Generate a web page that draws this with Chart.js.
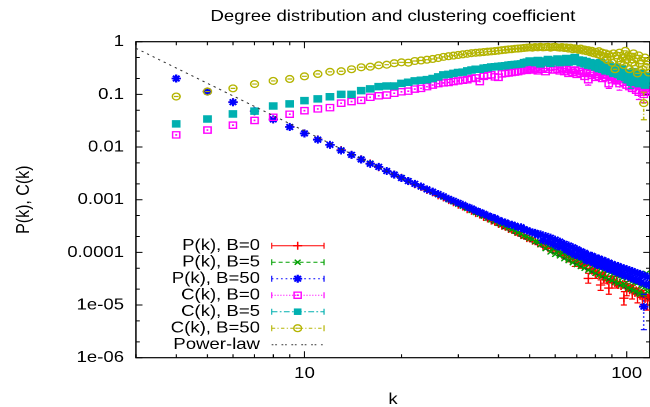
<!DOCTYPE html>
<html>
<head>
<meta charset="utf-8">
<title>Degree distribution and clustering coefficient</title>
<script src="https://cdn.jsdelivr.net/npm/chart.js@4.4.0/dist/chart.umd.min.js"></script>
<style>
  html, body { margin: 0; padding: 0; background: #fff; overflow: hidden; width: 650px; height: 407px; }
  /* the plot is laid out on a narrower canvas and widened to the page */
  #wrap { position: absolute; left: 0; top: 0; transform: scaleX(1.16); transform-origin: 0 0; }
  canvas { display: block; }
</style>
</head>
<body>
<div id="wrap"><canvas id="c" width="566" height="407"></canvas></div>
<script>
// ---- data -------------------------------------------------------------
const degrees = [
  4, 5, 6, 7, 8, 9, 10, 11, 12, 13,
  14, 15, 16, 17, 18, 19, 20, 21, 22, 23,
  24, 25, 26, 27, 28, 29, 30, 31, 32, 33,
  34, 35, 36, 37, 38, 39, 40, 41, 42, 43,
  44, 45, 46, 47, 48, 49, 50, 51, 52, 53,
  54, 55, 56, 57, 58, 59, 60, 61, 62, 63,
  64, 65, 66, 67, 68, 69, 70, 71, 72, 73,
  74, 75, 76, 77, 78, 79, 80, 81, 82, 83,
  84, 85, 86, 87, 88, 89, 90, 91, 92, 93,
  94, 95, 96, 97, 98, 99, 100, 101, 102, 103,
  104, 105, 106, 107, 108, 109, 110, 111, 112, 113,
  114, 115, 116, 117
];

// P(k), B=0
const pB0 = [
  0.2, 0.114, 0.0714, 0.0476, 0.0333, 0.0242, 0.0182, 0.0140, 0.0110, 0.0088,
  0.00713, 0.00587, 0.00490, 0.00414, 0.00350, 0.00301, 0.00261, 0.00225, 0.00197, 0.00175,
  0.00153, 0.00138, 0.00121, 0.00110, 9.8e-4, 8.95e-4, 8.0e-4, 7.4e-4, 6.6e-4, 6.15e-4,
  5.55e-4, 5.2e-4, 4.7e-4, 4.4e-4, 4.0e-4, 3.8e-4, 3.45e-4, 3.2e-4, 3.05e-4, 2.78e-4,
  2.68e-4, 2.43e-4, 2.35e-4, 2.12e-4, 2.07e-4, 1.86e-4, 1.83e-4, 1.66e-4, 1.63e-4, 1.48e-4,
  1.47e-4, 1.33e-4, 1.32e-4, 1.20e-4, 1.19e-4, 1.08e-4, 1.07e-4, 9.7e-5, 9.8e-5, 8.8e-5,
  8.9e-5, 8.0e-5, 8.2e-5, 7.3e-5, 7.5e-5, 6.6e-5, 6.9e-5, 6.0e-5, 6.3e-5, 5.6e-5,
  5.8e-5, 5.0e-5, 3.2e-5, 4.8e-5, 4.5e-5, 4.3e-5, 4.0e-5, 4.2e-5, 3.8e-5, 2.4e-5,
  3.6e-5, 3.3e-5, 3.5e-5, 2.9e-5, 2.1e-5, 3.1e-5, 2.8e-5, 3.0e-5, 2.6e-5, 2.8e-5,
  2.4e-5, 2.7e-5, 2.3e-5, 2.5e-5, 1.35e-5, 2.3e-5, 2.1e-5, 2.2e-5, 1.9e-5, 2.1e-5,
  1.8e-5, 2.0e-5, 1.7e-5, 1.9e-5, 1.6e-5, 1.8e-5, 1.5e-5, 1.7e-5, 1.4e-5, 1.6e-5,
  1.3e-5, 1.5e-5, 1.2e-5, 1.4e-5
];

// P(k), B=5
const pB5 = [
  0.2, 0.114, 0.0715, 0.0477, 0.0334, 0.0243, 0.0183, 0.0140, 0.0110, 0.00885,
  0.00718, 0.00592, 0.00495, 0.00418, 0.00356, 0.00305, 0.00265, 0.00230, 0.00200, 0.00178,
  0.00156, 0.00140, 0.00124, 0.00112, 0.00100, 9.1e-4, 8.2e-4, 7.5e-4, 6.8e-4, 6.25e-4,
  5.7e-4, 5.3e-4, 4.85e-4, 4.45e-4, 4.15e-4, 3.85e-4, 3.55e-4, 3.35e-4, 3.08e-4, 2.92e-4,
  2.70e-4, 2.55e-4, 2.36e-4, 2.25e-4, 2.05e-4, 1.98e-4, 1.84e-4, 1.78e-4, 1.60e-4, 1.58e-4,
  1.40e-4, 1.50e-4, 1.18e-4, 1.35e-4, 1.02e-4, 1.20e-4, 9.2e-5, 1.08e-4, 8.6e-5, 1.0e-4,
  7.6e-5, 9.2e-5, 7.0e-5, 8.5e-5, 6.4e-5, 7.9e-5, 5.9e-5, 7.3e-5, 5.4e-5, 6.8e-5,
  5.0e-5, 6.4e-5, 4.6e-5, 6.0e-5, 4.3e-5, 5.6e-5, 4.0e-5, 5.2e-5, 3.7e-5, 4.9e-5,
  3.5e-5, 4.6e-5, 3.3e-5, 4.4e-5, 3.1e-5, 4.1e-5, 2.9e-5, 3.9e-5, 2.7e-5, 3.7e-5,
  2.6e-5, 3.5e-5, 2.4e-5, 3.3e-5, 2.5e-5, 2.3e-5, 3.2e-5, 2.1e-5, 3.0e-5, 2.0e-5,
  2.8e-5, 1.9e-5, 2.7e-5, 1.8e-5, 2.6e-5, 1.7e-5, 1.6e-5, 2.4e-5, 2.3e-5, 1.6e-5,
  2.2e-5, 4.0e-5, 1.8e-5, 3.6e-5
];

// P(k), B=50
const pB50 = [
  0.2, 0.113, 0.071, 0.048, 0.0335, 0.0240, 0.0181, 0.0138, 0.0110, 0.0086,
  0.0071, 0.0058, 0.0048, 0.0042, 0.0035, 0.0030, 0.00258, 0.00226, 0.00200, 0.00178,
  0.00157, 0.00142, 0.00128, 0.00116, 0.00104, 9.5e-4, 8.7e-4, 8.0e-4, 7.3e-4, 6.8e-4,
  6.2e-4, 5.8e-4, 5.4e-4, 5.0e-4, 4.7e-4, 4.45e-4, 4.1e-4, 3.85e-4, 3.7e-4, 3.45e-4,
  3.35e-4, 3.2e-4, 3.0e-4, 3.0e-4, 2.75e-4, 2.62e-4, 2.5e-4, 2.38e-4, 2.35e-4, 2.15e-4,
  2.2e-4, 1.7e-4, 2.05e-4, 1.6e-4, 1.9e-4, 1.45e-4, 1.75e-4, 1.3e-4, 1.6e-4, 1.25e-4,
  1.45e-4, 1.1e-4, 1.35e-4, 1.0e-4, 1.25e-4, 9.0e-5, 1.15e-4, 8.5e-5, 1.05e-4, 8.0e-5,
  9.8e-5, 7.0e-5, 9.0e-5, 6.8e-5, 8.6e-5, 6.3e-5, 8.0e-5, 5.8e-5, 7.6e-5, 5.6e-5,
  7.2e-5, 5.3e-5, 6.8e-5, 5.0e-5, 6.4e-5, 4.7e-5, 6.0e-5, 4.5e-5, 5.7e-5, 4.2e-5,
  5.5e-5, 4.0e-5, 5.2e-5, 3.8e-5, 5.0e-5, 3.6e-5, 4.8e-5, 3.5e-5, 4.6e-5, 3.3e-5,
  4.4e-5, 3.1e-5, 4.2e-5, 3.0e-5, 4.0e-5, 2.9e-5, 3.9e-5, 2.7e-5, 3.7e-5, 9.3e-6,
  3.6e-5, 2.5e-5, 3.4e-5, 2.4e-5
];

// C(k), B=0
const cB0 = [
  0.017, 0.021, 0.026, 0.032, 0.0367, 0.042, 0.049, 0.053, 0.056, 0.068,
  0.073, 0.077, 0.088, 0.094, 0.097, 0.105, 0.112, 0.115, 0.126, 0.13,
  0.14, 0.15, 0.16, 0.165, 0.168, 0.175, 0.18, 0.185, 0.19, 0.20,
  0.205, 0.175, 0.22, 0.23, 0.235, 0.215, 0.21, 0.245, 0.25, 0.255,
  0.26, 0.265, 0.27, 0.28, 0.29, 0.285, 0.30, 0.29, 0.31, 0.28,
  0.30, 0.32, 0.27, 0.30, 0.33, 0.29, 0.34, 0.30, 0.28, 0.31,
  0.27, 0.30, 0.25, 0.29, 0.26, 0.28, 0.24, 0.29, 0.25, 0.27,
  0.22, 0.26, 0.19, 0.25, 0.23, 0.27, 0.21, 0.24, 0.22, 0.26,
  0.20, 0.23, 0.21, 0.24, 0.16, 0.22, 0.19, 0.23, 0.20, 0.18,
  0.21, 0.16, 0.19, 0.22, 0.17, 0.20, 0.15, 0.18, 0.14, 0.17,
  0.13, 0.16, 0.19, 0.12, 0.15, 0.11, 0.14, 0.17, 0.12, 0.10,
  0.14, 0.11, 0.13, 0.12
];

// C(k), B=5
const cB5 = [
  0.0275, 0.034, 0.0425, 0.048, 0.060, 0.066, 0.076, 0.082, 0.090, 0.100,
  0.100, 0.118, 0.127, 0.140, 0.144, 0.144, 0.162, 0.170, 0.180, 0.185,
  0.190, 0.200, 0.215, 0.235, 0.240, 0.250, 0.260, 0.265, 0.280, 0.290,
  0.300, 0.300, 0.315, 0.320, 0.330, 0.335, 0.340, 0.345, 0.350, 0.360,
  0.365, 0.370, 0.375, 0.380, 0.400, 0.410, 0.430, 0.42, 0.40, 0.44,
  0.38, 0.43, 0.41, 0.46, 0.39, 0.44, 0.42, 0.47, 0.40, 0.45,
  0.43, 0.48, 0.41, 0.46, 0.44, 0.50, 0.42, 0.45, 0.40, 0.44,
  0.38, 0.42, 0.36, 0.40, 0.35, 0.39, 0.33, 0.37, 0.31, 0.40,
  0.30, 0.34, 0.28, 0.32, 0.36, 0.27, 0.31, 0.25, 0.29, 0.33,
  0.24, 0.28, 0.22, 0.30, 0.26, 0.21, 0.25, 0.19, 0.23, 0.17,
  0.22, 0.27, 0.18, 0.24, 0.20, 0.16, 0.21, 0.25, 0.18, 0.22,
  0.15, 0.20, 0.17, 0.23
];

// C(k), B=50
const cB50 = [
  0.091, 0.113, 0.13, 0.157, 0.18, 0.196, 0.22, 0.244, 0.268, 0.275,
  0.30, 0.327, 0.335, 0.356, 0.366, 0.39, 0.406, 0.40, 0.43, 0.44,
  0.455, 0.47, 0.49, 0.515, 0.53, 0.545, 0.56, 0.575, 0.59, 0.605,
  0.615, 0.625, 0.635, 0.645, 0.655, 0.665, 0.675, 0.69, 0.70, 0.715,
  0.72, 0.735, 0.74, 0.75, 0.76, 0.77, 0.78, 0.77, 0.79, 0.78,
  0.80, 0.78, 0.79, 0.80, 0.77, 0.79, 0.80, 0.78, 0.77, 0.79,
  0.76, 0.78, 0.74, 0.77, 0.72, 0.75, 0.73, 0.70, 0.74, 0.68,
  0.71, 0.66, 0.69, 0.63, 0.67, 0.60, 0.64, 0.58, 0.66, 0.55,
  0.62, 0.50, 0.60, 0.45, 0.57, 0.52, 0.40, 0.60, 0.30, 0.55,
  0.48, 0.62, 0.42, 0.50, 0.36, 0.67, 0.45, 0.55, 0.30, 0.52,
  0.40, 0.60, 0.35, 0.48, 0.25, 0.55, 0.38, 0.44, 0.30, 0.068,
  0.50, 0.33, 0.42, 0.26
];

// reference power-law line, end points
const powerLawK = [3, 118];
const powerLawP = [0.75, 1.23e-5];

// visible error bars: [k, low, high]
const errB0P = [
  [66, 6.6e-5, 9.8e-5], [69, 5.4e-5, 7.9e-5], [72, 5.0e-5, 7.6e-5], [76, 2.6e-5, 4.0e-5],
  [80, 3.2e-5, 5.0e-5], [83, 1.9e-5, 3.0e-5], [85, 2.6e-5, 4.2e-5], [88, 1.6e-5, 2.7e-5],
  [90, 2.1e-5, 3.5e-5], [93, 2.1e-5, 3.5e-5], [98, 1.0e-5, 1.8e-5], [100, 1.5e-5, 2.8e-5],
  [104, 1.3e-5, 2.4e-5], [108, 1.1e-5, 2.1e-5], [112, 1.0e-5, 1.9e-5], [116, 0.8e-5, 1.6e-5]
];
const errB50P = [[113, 3.4e-6, 1.6e-5]];
const errB0C = [[76, 0.15, 0.24], [88, 0.13, 0.20], [95, 0.12, 0.21], [109, 0.08, 0.15], [113, 0.07, 0.14]];
const errB5C = [[99, 0.17, 0.26], [103, 0.13, 0.22]];
const errB50C = [[113, 0.033, 0.11]];

const seriesNames = ['P(k), B=0', 'P(k), B=5', 'P(k), B=50', 'C(k), B=0', 'C(k), B=5', 'C(k), B=50', 'Power-law'];

const xTickValues = [10, 100];
const xTickLabels = ['10', '100'];
const xMinorTicks = [3, 4, 5, 6, 7, 8, 9, 20, 30, 40, 50, 60, 70, 80, 90];
const yTickValues = [1e-6, 1e-5, 1e-4, 1e-3, 1e-2, 0.1, 1];
const yTickLabels = ['1e-06', '1e-05', '0.0001', '0.001', '0.01', '0.1', '1'];
const yMinorTicks = [2e-6, 5e-6, 2e-5, 5e-5, 2e-4, 5e-4, 2e-3, 5e-3, 0.02, 0.05, 0.2, 0.5];

// ---- styles -----------------------------------------------------------
const FONT = '"Liberation Sans", Arial, Helvetica, sans-serif';
Chart.defaults.font.family = FONT;
Chart.defaults.font.size = 16;
Chart.defaults.color = '#000';

const styles = [
  { color: '#ff0000', mark: 'cross',    r: 4.0, w: 1.3, dash: [],              caps: true },
  { color: '#00a000', mark: 'crossRot', r: 3.6, w: 1.3, dash: [3.5, 2.5],      caps: true },
  { color: '#0000ff', mark: 'star',     r: 4.0, w: 1.8, dash: [1.5, 2.5],      caps: true },
  { color: '#ff00ff', mark: 'rect',     r: 4.4, w: 1.3, dash: [1, 1.5],        caps: true, open: true, center: 'dot' },
  { color: '#00b0b0', mark: 'rect',     r: 4.6, w: 1,   dash: [5, 2, 1.5, 2],  caps: true, fill: true },
  { color: '#b4b400', mark: 'circle',   r: 3.4, w: 1.3, dash: [3, 2, 1, 2],    caps: true, open: true, center: 'dash' },
  { color: '#333333', mark: null,       r: 0,   w: 1,   dash: [1.5, 1.5, 1.5, 4], caps: false }
];

const pts = vals => degrees.map((k, i) => ({ x: k, y: vals[i] }));
const seriesValues = [pB0, pB5, pB50, cB0, cB5, cB50];
const seriesErrors = [errB0P, [], errB50P, errB0C, errB5C, errB50C];

const datasets = seriesValues.map((vals, i) => {
  const s = styles[i];
  return {
    label: seriesNames[i],
    data: pts(vals),
    showLine: false,
    order: 6 - i,
    pointStyle: s.mark,
    pointRadius: s.r,
    pointBorderWidth: s.w,
    pointBorderColor: s.color,
    pointBackgroundColor: s.fill ? s.color : 'rgba(0,0,0,0)',
    borderColor: s.color,
    errBars: seriesErrors[i],
    errDash: s.dash,
    centerMark: s.center || null
  };
});
datasets.push({
  label: seriesNames[6],
  data: powerLawK.map((k, i) => ({ x: k, y: powerLawP[i] })),
  showLine: true,
  order: 0,
  pointRadius: 0,
  borderColor: styles[6].color,
  borderWidth: 1,
  borderDash: [2, 3.5],
  fill: false
});

// ---- helpers ----------------------------------------------------------
function drawMark(ctx, s, x, y) {
  const r = s.r;
  ctx.save();
  ctx.setLineDash([]);
  ctx.strokeStyle = s.color;
  ctx.fillStyle = s.color;
  ctx.lineWidth = s.w;
  ctx.beginPath();
  if (s.mark === 'cross' || s.mark === 'star') {
    ctx.moveTo(x - r, y); ctx.lineTo(x + r, y);
    ctx.moveTo(x, y - r); ctx.lineTo(x, y + r);
  }
  if (s.mark === 'crossRot' || s.mark === 'star') {
    const d = r * Math.SQRT1_2;
    ctx.moveTo(x - d, y - d); ctx.lineTo(x + d, y + d);
    ctx.moveTo(x - d, y + d); ctx.lineTo(x + d, y - d);
  }
  if (s.mark === 'rect') {
    const h = r * Math.SQRT1_2;
    if (s.fill) ctx.fillRect(x - h, y - h, 2 * h, 2 * h);
    else ctx.rect(x - h, y - h, 2 * h, 2 * h);
  }
  if (s.mark === 'circle') ctx.arc(x, y, r, 0, Math.PI * 2);
  ctx.stroke();
  ctx.restore();
}

// frame with inward ticks on all four sides
const framePlugin = {
  id: 'frame',
  beforeDatasetsDraw(chart) {
    const { ctx, chartArea: a, scales: { x, y } } = chart;
    ctx.save();
    ctx.strokeStyle = '#000';
    ctx.lineWidth = 1;
    ctx.beginPath();
    const xt = (v, len) => {
      const p = x.getPixelForValue(v);
      ctx.moveTo(p, a.bottom); ctx.lineTo(p, a.bottom - len);
      ctx.moveTo(p, a.top); ctx.lineTo(p, a.top + len);
    };
    const yt = (v, len) => {
      const p = y.getPixelForValue(v);
      ctx.moveTo(a.left, p); ctx.lineTo(a.left + len, p);
      ctx.moveTo(a.right, p); ctx.lineTo(a.right - len, p);
    };
    xTickValues.forEach(v => xt(v, 6.5));
    xMinorTicks.forEach(v => xt(v, 3.5));
    yTickValues.forEach(v => yt(v, 5.6));
    yMinorTicks.forEach(v => yt(v, 3.2));
    ctx.stroke();
    ctx.lineWidth = 1.2;
    ctx.strokeRect(a.left, a.top, a.right - a.left, a.bottom - a.top);
    ctx.restore();
  }
};

// error bars and centre caps, drawn together with their own series
const errorPlugin = {
  id: 'errors',
  afterDatasetDraw(chart, args) {
    const ds = chart.data.datasets[args.index];
    if (!ds.errBars && !ds.centerMark) return;
    const { ctx, chartArea: a, scales: { x, y } } = chart;
    ctx.save();
    ctx.beginPath();
    ctx.rect(a.left, a.top, a.right - a.left, a.bottom - a.top);
    ctx.clip();
    ctx.strokeStyle = ds.borderColor;
    ctx.fillStyle = ds.borderColor;
    ctx.lineWidth = 1.2;
    if (ds.errBars && ds.errBars.length) {
      ctx.setLineDash(ds.errDash || []);
      ctx.beginPath();
      ds.errBars.forEach(([k, lo, hi]) => {
        const px = x.getPixelForValue(k);
        const y1 = y.getPixelForValue(lo), y2 = y.getPixelForValue(hi);
        ctx.moveTo(px, y1); ctx.lineTo(px, y2);
      });
      ctx.stroke();
      ctx.setLineDash([]);
      ctx.beginPath();
      ds.errBars.forEach(([k, lo, hi]) => {
        const px = x.getPixelForValue(k);
        [lo, hi].forEach(v => {
          const py = y.getPixelForValue(v);
          ctx.moveTo(px - 2.6, py); ctx.lineTo(px + 2.6, py);
        });
      });
      ctx.stroke();
    }
    if (ds.centerMark) {
      const meta = chart.getDatasetMeta(args.index);
      ctx.beginPath();
      meta.data.forEach(p => {
        if (ds.centerMark === 'dash') { ctx.moveTo(p.x - 2, p.y); ctx.lineTo(p.x + 2, p.y); }
        else ctx.rect(p.x - 0.8, p.y - 0.8, 1.6, 1.6);
      });
      if (ds.centerMark === 'dash') ctx.stroke(); else ctx.fill();
    }
    ctx.restore();
  }
};

// key in the lower left of the plot
const keyPlugin = {
  id: 'key',
  afterDraw(chart) {
    const ctx = chart.ctx;
    const textRight = 224.1, x1 = 234.2, x2 = 279.3, xm = 256.6;
    ctx.save();
    ctx.font = '16px ' + FONT;
    ctx.textAlign = 'right';
    ctx.textBaseline = 'middle';
    seriesNames.forEach((name, i) => {
      const s = styles[i];
      const yy = 245.7 + i * 16.5;
      ctx.fillStyle = '#000';
      ctx.fillText(name, textRight, yy);
      ctx.strokeStyle = s.color;
      ctx.lineWidth = 1;
      ctx.setLineDash(s.dash);
      ctx.beginPath();
      ctx.moveTo(x1, yy); ctx.lineTo(x2, yy);
      ctx.stroke();
      ctx.setLineDash([]);
      if (s.caps) {
        ctx.beginPath();
        ctx.moveTo(x1, yy - 3); ctx.lineTo(x1, yy + 3);
        ctx.moveTo(x2, yy - 3); ctx.lineTo(x2, yy + 3);
        ctx.stroke();
      }
      if (s.mark) {
        drawMark(ctx, s, xm, yy);
        if (s.center === 'dash') {
          ctx.beginPath(); ctx.moveTo(xm - 2, yy); ctx.lineTo(xm + 2, yy); ctx.stroke();
        } else if (s.center === 'dot') {
          ctx.fillStyle = s.color; ctx.fillRect(xm - 0.8, yy - 0.8, 1.6, 1.6);
        }
      }
    });
    ctx.restore();
  }
};

new Chart(document.getElementById('c'), {
  type: 'scatter',
  data: { datasets },
  options: {
    responsive: false,
    animation: false,
    devicePixelRatio: 2,
    events: [],
    layout: { padding: { left: 0, right: 4.8, top: 0, bottom: 0 } },
    plugins: {
      legend: { display: false },
      tooltip: { enabled: false },
      title: {
        display: true,
        text: 'Degree distribution and clustering coefficient',
        fullSize: false,
        color: '#000',
        font: { size: 16, weight: 'normal' },
        padding: { top: 7, bottom: 15.5 }
      }
    },
    scales: {
      x: {
        type: 'logarithmic',
        min: 3,
        max: 118,
        grid: { display: false, drawTicks: false },
        border: { display: false },
        ticks: {
          autoSkip: false, maxRotation: 0, padding: 6.5,
          callback: (v, i) => xTickLabels[i]
        },
        afterBuildTicks: s => { s.ticks = xTickValues.map(v => ({ value: v })); },
        afterFit: s => { s.height = 49.3; },
        title: { display: true, text: 'k', font: { size: 16 }, padding: { top: 0, bottom: -2 } }
      },
      y: {
        type: 'logarithmic',
        min: 1e-6,
        max: 1,
        grid: { display: false, drawTicks: false },
        border: { display: false },
        ticks: {
          autoSkip: false, padding: 10.3,
          callback: (v, i) => yTickLabels[i]
        },
        afterBuildTicks: s => { s.ticks = yTickValues.map(v => ({ value: v })); },
        afterFit: s => { s.width = 117.2; },
        title: { display: true, text: 'P(k), C(k)', font: { size: 16 }, padding: { top: 11.1, bottom: 0 } }
      }
    }
  },
  plugins: [framePlugin, errorPlugin, keyPlugin]
});
</script>
</body>
</html>
